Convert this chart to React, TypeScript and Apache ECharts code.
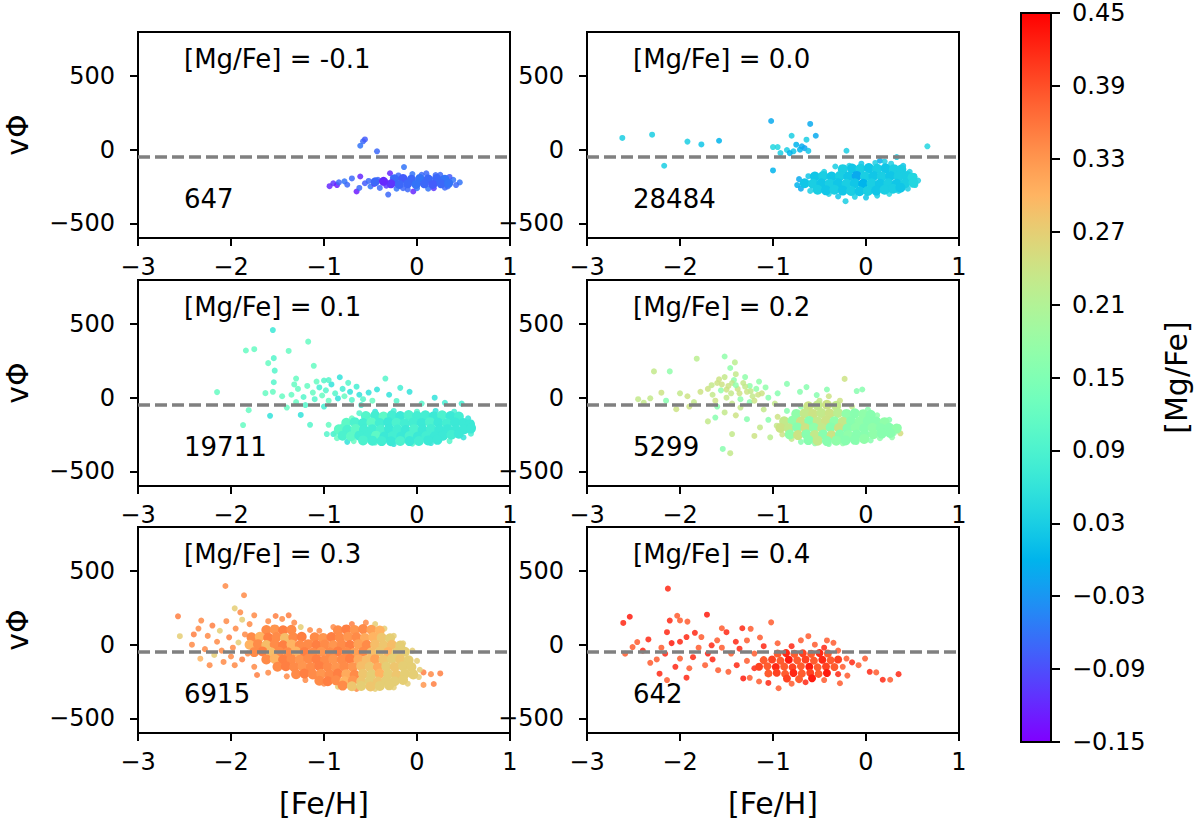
import React, { useEffect, useRef } from "react";
import * as echarts from "echarts";

// ---------- data ----------
const FEH_TICKS = [-3, -2, -1, 0, 1];
const VPHI_TICKS = [-500, 0, 500];
const CBAR_TICKS = [-0.15, -0.09, -0.03, 0.03, 0.09, 0.15, 0.21, 0.27, 0.33, 0.39, 0.45];
const CBAR_MIN = -0.15;
const CBAR_MAX = 0.45;
const MGFE_BINS = ["-0.1", "0.0", "0.1", "0.2", "0.3", "0.4"];
const COUNTS = ["647", "28484", "19711", "5299", "6915", "642"];
const REF_VPHI = -48;
const ANNOT_X = -2.5;
const TITLE_Y = 550;
const COUNT_Y = -400;

// [Fe/H], vPhi, [Mg/Fe]
const P1_SPARSE = [
  [-0.58, 57, -0.07], [-0.61, 27, -0.06], [-0.56, 70, -0.08], [-0.43, -11, -0.07], [-0.14, -118, -0.06],
  [-0.94, -248, -0.12], [-0.9, -228, -0.11], [-0.86, -240, -0.13], [-0.84, -222, -0.07], [-0.78, -215, -0.06],
  [-0.75, -238, -0.07], [-0.7, -195, -0.07], [-0.65, -284, -0.13], [-0.61, -182, -0.12], [-0.62, -260, -0.07],
  [-0.56, -228, -0.08], [-0.52, -212, -0.07], [-0.5, -250, -0.06], [-0.46, -232, -0.12], [-0.42, -205, -0.07],
  [-0.4, -260, -0.07], [-0.36, -222, -0.06], [-0.31, -305, -0.07], [-0.29, -160, -0.12], [-0.33, -245, -0.11],
  [-0.26, -190, -0.07], [-0.22, -265, -0.06], [-0.04, -284, -0.12], [-0.1, -270, -0.07], [0.05, -170, -0.07],
  [0.12, -265, -0.06], [0.2, -172, -0.07], [0.28, -195, -0.06], [0.33, -250, -0.07], [0.39, -205, -0.06],
  [0.46, -222, -0.06], [0.42, -240, -0.07], [0.35, -185, -0.08], [-0.2, -175, -0.07], [-0.05, -165, -0.06],
  [0.1, -160, -0.07], [0.25, -170, -0.07], [-0.15, -262, -0.07], [0.0, -262, -0.06], [0.18, -262, -0.11],
  [0.3, -258, -0.07],
];
const P1_CORE = [
  [-0.24, -198, -0.07], [-0.15, -195, -0.08], [-0.06, -200, -0.07], [0.03, -195, -0.06], [0.12, -198, -0.07],
  [0.21, -195, -0.07], [0.3, -200, -0.06], [-0.28, -232, -0.11], [-0.19, -236, -0.07], [-0.1, -232, -0.07],
  [-0.01, -236, -0.06], [0.08, -232, -0.07], [0.17, -236, -0.08], [0.26, -232, -0.07], [0.34, -228, -0.06],
  [-0.45, -218, -0.07], [-0.36, -215, -0.12],
];

const P2_SPARSE = [
  [-2.62, 80, 0.03], [-2.3, 102, 0.03], [-2.17, -109, 0.03], [-1.92, 55, 0.03], [-1.77, 36, 0.02],
  [-1.58, 61, 0.0], [-1.02, 195, -0.01], [-1.0, 18, 0.04], [-0.95, 18, 0.04], [-1.0, -141, 0.0],
  [-0.8, 95, 0.03], [-0.6, 175, -0.01], [-0.54, 95, -0.01], [-0.64, 68, 0.03], [-0.66, 11, -0.02],
  [-0.75, 34, 0.0], [-0.71, 0, 0.0], [-0.78, -11, 0.02], [-0.85, -2, 0.03], [-0.92, -23, 0.03],
  [-0.82, -23, 0.0], [-0.69, 23, -0.01], [-0.62, -8, 0.02], [-0.21, -7, 0.03], [0.66, 23, 0.04],
  [0.33, -50, 0.03], [0.15, -75, -0.01], [-0.33, -114, 0.03],
  [-0.72, -200, -0.01], [-0.74, -240, 0.0], [-0.7, -265, -0.01], [-0.62, -180, 0.02], [-0.6, -280, 0.03],
  [-0.45, -150, 0.03], [-0.4, -300, 0.03], [-0.3, -318, 0.02], [-0.22, -350, 0.03], [-0.12, -320, 0.03],
  [0.0, -325, 0.02], [0.12, -312, 0.03], [0.25, -300, 0.04], [0.35, -280, 0.03], [0.45, -265, 0.03],
  [0.53, -240, 0.04], [0.56, -210, 0.03], [0.52, -180, 0.03], [0.47, -150, 0.03], [0.4, -110, 0.02],
  [0.27, -95, 0.03], [0.1, -90, 0.03], [-0.05, -95, 0.02], [-0.18, -110, 0.03], [0.2, -80, 0.03],
  [-0.55, -230, -0.02], [0.05, -200, -0.02], [0.1, -240, -0.03],
];
const P2_CORE = [
  [-0.25, -132, 0.03], [-0.15, -128, 0.02], [-0.06, -130, 0.03], [0.03, -125, 0.02], [0.12, -130, 0.03],
  [0.21, -126, 0.02], [0.3, -132, 0.03], [0.38, -135, 0.03],
  [-0.55, -182, 0.02], [-0.46, -178, 0.03], [-0.37, -182, 0.02], [-0.28, -178, 0.03], [-0.19, -182, 0.02],
  [-0.1, -178, -0.01], [-0.01, -182, 0.03], [0.08, -178, 0.02], [0.17, -182, 0.03], [0.26, -178, 0.02],
  [0.35, -182, 0.03], [0.44, -178, 0.03], [0.5, -190, 0.04],
  [-0.66, -228, 0.02], [-0.57, -232, 0.03], [-0.48, -228, 0.02], [-0.39, -232, 0.03], [-0.3, -228, 0.02],
  [-0.21, -232, 0.03], [-0.12, -228, 0.02], [-0.03, -232, 0.0], [0.06, -228, 0.03], [0.15, -232, 0.02],
  [0.24, -228, 0.03], [0.33, -232, 0.02], [0.42, -228, 0.03], [0.51, -225, 0.04],
  [-0.52, -272, 0.03], [-0.43, -276, 0.02], [-0.34, -272, 0.03], [-0.25, -278, 0.02], [-0.16, -280, 0.03],
  [-0.07, -282, 0.02], [0.02, -280, 0.03], [0.11, -278, 0.02], [0.2, -272, 0.03], [0.29, -265, 0.03],
  [0.37, -258, 0.02],
];

const P3_SPARSE = [
  [-1.55, 460, 0.07], [-1.17, 381, 0.12], [-1.84, 321, 0.12], [-1.75, 330, 0.12], [-1.38, 318, 0.12],
  [-1.6, 235, 0.12], [-1.54, 269, 0.1], [-1.53, 184, 0.1], [-1.11, 217, 0.12], [-2.15, 38, 0.12],
  [-1.63, 31, 0.12], [-1.54, 105, 0.1], [-1.55, 40, 0.12], [-1.81, -85, 0.12], [-1.87, -186, 0.12],
  [-1.58, -123, 0.06], [-1.4, -67, 0.12], [-1.32, 90, 0.12], [-1.3, 130, 0.12], [-0.83, 139, 0.06],
  [-1.0, 117, 0.1], [-0.74, 101, 0.1], [-0.34, 130, 0.1], [-0.18, 67, 0.08], [-0.08, 40, 0.06],
  [-0.43, 56, 0.06], [0.19, 0, 0.06], [-1.25, -117, 0.06], [-1.15, -184, 0.1], [-0.95, -184, 0.12],
  [-0.97, -247, 0.1], [-0.9, -247, 0.08], [-0.22, -22, 0.1],
  [-1.35, 20, 0.12], [-1.28, 60, 0.12], [-1.22, 5, 0.1], [-1.18, 80, 0.12], [-1.12, 35, 0.12],
  [-1.1, -10, 0.1], [-1.05, 70, 0.08], [-1.02, 15, 0.12], [-0.98, 50, 0.1], [-0.95, -20, 0.12],
  [-0.92, 90, 0.06], [-0.88, 30, 0.1], [-0.85, -5, 0.06], [-0.8, 60, 0.08], [-0.78, 10, 0.12],
  [-0.72, 40, 0.06], [-0.7, -15, 0.1], [-0.65, 75, 0.08], [-0.62, 20, 0.06], [-0.58, -10, 0.1],
  [-0.52, 35, 0.06], [-0.48, -20, 0.12], [-1.3, -30, 0.12], [-1.2, -50, 0.1], [-1.08, 110, 0.12],
  [-0.95, 120, 0.1], [-1.45, 10, 0.12], [-1.0, -60, 0.08], [-0.3, 20, 0.06], [-0.6, -50, 0.08],
  [0.05, -40, 0.1], [0.3, -35, 0.08], [0.48, -40, 0.08],
  [-0.88, -240, 0.1], [-0.86, -275, 0.12], [-0.8, -195, 0.1], [-0.7, -140, 0.12], [-0.62, -105, 0.1],
  [-0.45, -95, 0.06], [-0.25, -90, 0.08], [0.0, -95, 0.1], [0.2, -90, 0.06], [0.4, -95, 0.08],
  [0.55, -140, 0.06], [0.6, -200, 0.06], [0.58, -245, 0.08], [0.5, -270, 0.06], [0.35, -295, 0.1],
  [0.15, -308, 0.06], [-0.05, -312, 0.1], [-0.25, -315, 0.06], [-0.45, -305, 0.1], [-0.68, -295, 0.12],
  [-0.75, -300, 0.06],
];
const P3_CORE = [
  [-0.55, -125, 0.1], [-0.45, -122, 0.08], [-0.36, -128, 0.11], [-0.27, -120, 0.08], [-0.18, -125, 0.07],
  [-0.09, -118, 0.09], [0.0, -124, 0.08], [0.09, -120, 0.08], [0.18, -126, 0.07], [0.27, -120, 0.09],
  [0.36, -125, 0.07], [0.45, -128, 0.08],
  [-0.76, -170, 0.11], [-0.67, -166, 0.09], [-0.58, -172, 0.08], [-0.49, -168, 0.11], [-0.4, -172, 0.08],
  [-0.31, -166, 0.07], [-0.22, -170, 0.09], [-0.13, -174, 0.08], [-0.04, -168, 0.08], [0.05, -172, 0.07],
  [0.14, -166, 0.09], [0.23, -170, 0.07], [0.32, -174, 0.08], [0.41, -168, 0.07], [0.5, -172, 0.07],
  [0.57, -180, 0.07],
  [-0.84, -215, 0.11], [-0.75, -218, 0.09], [-0.66, -212, 0.11], [-0.57, -218, 0.08], [-0.48, -214, 0.08],
  [-0.39, -218, 0.09], [-0.3, -212, 0.07], [-0.21, -216, 0.08], [-0.12, -220, 0.07], [-0.03, -214, 0.09],
  [0.06, -218, 0.07], [0.15, -212, 0.08], [0.24, -218, 0.07], [0.33, -214, 0.07], [0.42, -218, 0.07],
  [0.51, -214, 0.07], [0.58, -210, 0.07],
  [-0.8, -258, 0.09], [-0.71, -262, 0.11], [-0.62, -258, 0.08], [-0.53, -262, 0.08], [-0.44, -258, 0.11],
  [-0.35, -264, 0.07], [-0.26, -260, 0.08], [-0.17, -264, 0.07], [-0.08, -260, 0.09], [0.01, -264, 0.07],
  [0.1, -260, 0.08], [0.19, -262, 0.07], [0.28, -258, 0.07], [0.37, -252, 0.08], [0.45, -245, 0.07],
  [-0.58, -290, 0.09], [-0.48, -292, 0.08], [-0.38, -295, 0.08], [-0.28, -296, 0.07], [-0.18, -294, 0.09],
  [-0.08, -295, 0.07], [0.02, -294, 0.08], [0.12, -290, 0.07], [0.22, -286, 0.07],
];

const P4_SPARSE = [
  [-1.82, 265, 0.22], [-1.52, 280, 0.17], [-1.41, 240, 0.22], [-1.46, 202, 0.17], [-2.28, 179, 0.23],
  [-2.11, 179, 0.17], [-0.23, 128, 0.24], [-0.04, 56, 0.16], [-0.1, 45, 0.16], [-0.85, 94, 0.16],
  [-0.64, 72, 0.16], [-0.42, 56, 0.16], [-0.53, 18, 0.16], [-0.71, 40, 0.16], [-2.39, -34, 0.23],
  [-2.32, -4, 0.23], [-2.04, -78, 0.24], [-2.2, 34, 0.24], [-2.0, 30, 0.23], [-1.92, 10, 0.24],
  [-1.7, -161, 0.23], [-1.62, -135, 0.16], [-1.54, -348, 0.16], [-1.46, -377, 0.23], [-1.44, -247, 0.23],
  [-1.35, -67, 0.23], [-1.28, -146, 0.16], [-1.14, -202, 0.23], [-1.03, -269, 0.22], [-1.2, -260, 0.24],
  [0.37, -242, 0.25], [0.28, -269, 0.17], [-2.45, -10, 0.23], [-2.15, -20, 0.16], [-1.85, -30, 0.23],
  [-1.78, 40, 0.24], [-1.9, -60, 0.24], [-1.6, -60, 0.16], [-1.52, -100, 0.23], [-1.4, -120, 0.24],
  [-1.25, -30, 0.16], [-1.1, -80, 0.23], [-1.05, -150, 0.16], [-0.98, -40, 0.23], [-0.95, 30, 0.16],
  [-1.7, 60, 0.24], [-1.65, 20, 0.23], [-1.6, 100, 0.24], [-1.56, 50, 0.17], [-1.52, 140, 0.23],
  [-1.48, 80, 0.24], [-1.45, 30, 0.23], [-1.42, 120, 0.17], [-1.38, 60, 0.24], [-1.35, -10, 0.17],
  [-1.32, 100, 0.23], [-1.28, 40, 0.24], [-1.25, 80, 0.17], [-1.22, 10, 0.23], [-1.18, 60, 0.17],
  [-1.15, 110, 0.17], [-1.12, 30, 0.24], [-1.08, 70, 0.17], [-1.05, 0, 0.16], [-1.5, 0, 0.23],
  [-1.62, -20, 0.24], [-1.4, 160, 0.23], [-1.3, 140, 0.17], [-1.2, -20, 0.24], [-1.55, 90, 0.24],
  [-1.44, -40, 0.23], [-1.66, 85, 0.23], [-1.58, 125, 0.24], [-1.5, 55, 0.24], [-1.44, 100, 0.23],
  [-1.36, 30, 0.24], [-1.3, 75, 0.23], [-1.24, 45, 0.23], [-1.16, 20, 0.24], [-1.4, 85, 0.17],
  [-0.95, -130, 0.24], [-0.96, -190, 0.23], [-0.9, -250, 0.24], [-0.8, -280, 0.23], [-0.7, -300, 0.16],
  [-0.55, -310, 0.17], [-0.4, -315, 0.16], [-0.25, -310, 0.17], [-0.1, -300, 0.16], [0.05, -290, 0.16],
  [0.15, -275, 0.17], [0.3, -240, 0.16], [0.35, -200, 0.16], [0.25, -150, 0.16], [0.12, -120, 0.17],
  [0.02, -80, 0.16], [-0.15, -60, 0.23], [-0.28, -20, 0.24], [-0.4, 10, 0.24], [-0.5, -20, 0.23],
  [-0.7, -60, 0.17], [-0.85, -90, 0.16],
];
const P4_CORE = [
  [-0.62, -58, 0.24], [-0.52, -52, 0.23], [-0.42, -48, 0.24], [-0.32, -55, 0.23],
  [-0.75, -110, 0.17], [-0.66, -106, 0.23], [-0.57, -110, 0.24], [-0.48, -104, 0.23], [-0.39, -108, 0.24],
  [-0.3, -104, 0.22], [-0.21, -110, 0.17], [-0.12, -106, 0.16], [-0.03, -112, 0.17], [0.05, -116, 0.16],
  [-0.88, -160, 0.23], [-0.79, -156, 0.17], [-0.7, -162, 0.24], [-0.61, -158, 0.16], [-0.52, -162, 0.23],
  [-0.43, -156, 0.24], [-0.34, -160, 0.17], [-0.25, -164, 0.23], [-0.16, -158, 0.16], [-0.07, -162, 0.17],
  [0.02, -158, 0.16], [0.11, -162, 0.16], [0.2, -166, 0.17],
  [-0.92, -205, 0.24], [-0.83, -208, 0.23], [-0.74, -202, 0.16], [-0.65, -208, 0.24], [-0.56, -204, 0.17],
  [-0.47, -208, 0.23], [-0.38, -202, 0.16], [-0.29, -206, 0.24], [-0.2, -210, 0.16], [-0.11, -204, 0.17],
  [-0.02, -208, 0.16], [0.07, -204, 0.17], [0.16, -208, 0.16], [0.25, -204, 0.16], [0.33, -210, 0.17],
  [-0.82, -250, 0.17], [-0.73, -254, 0.24], [-0.64, -248, 0.16], [-0.55, -254, 0.23], [-0.46, -250, 0.16],
  [-0.37, -256, 0.24], [-0.28, -250, 0.16], [-0.19, -254, 0.17], [-0.1, -250, 0.16], [-0.01, -252, 0.16],
  [0.08, -248, 0.17], [0.17, -244, 0.16], [0.26, -240, 0.16],
  [-0.62, -288, 0.16], [-0.52, -292, 0.23], [-0.42, -295, 0.16], [-0.32, -292, 0.17], [-0.22, -290, 0.16],
  [-0.12, -286, 0.16], [-0.02, -280, 0.17],
];

const P5_SPARSE = [
  [-2.06, 399, 0.34], [-1.86, 336, 0.34], [-1.96, 247, 0.27], [-1.9, 220, 0.34], [-2.57, 193, 0.35],
  [-2.55, 58, 0.27], [-2.42, 0, 0.34], [-2.32, 164, 0.34], [-2.35, 110, 0.34], [-2.23, -139, 0.34],
  [-2.33, -95, 0.3], [-2.08, -117, 0.34], [-1.96, -139, 0.34], [-1.72, -206, 0.35], [0.07, -188, 0.35],
  [0.18, -267, 0.35], [0.25, -195, 0.35], [0.07, -273, 0.33], [0.15, -200, 0.34],
  [-2.25, 60, 0.34], [-2.2, 130, 0.35], [-2.15, 20, 0.34], [-2.12, 95, 0.27], [-2.1, -40, 0.34],
  [-2.05, 160, 0.34], [-2.02, 50, 0.35], [-1.98, -20, 0.34], [-1.95, 110, 0.34], [-1.92, 15, 0.27],
  [-1.88, 170, 0.27], [-1.85, 70, 0.34], [-1.82, -60, 0.34], [-2.28, -30, 0.34], [-2.18, -70, 0.27],
  [-2.4, 70, 0.35], [-2.0, -80, 0.34], [-1.88, -100, 0.35], [-1.8, 140, 0.34], [-1.75, 200, 0.34],
  [-1.6, 160, 0.34], [-1.52, 195, 0.35], [-1.45, 175, 0.34], [-1.38, 200, 0.35], [-1.32, 150, 0.34],
  [-1.25, 120, 0.27],
  [-0.9, 120, 0.34], [-0.7, 140, 0.35], [-0.55, 150, 0.34], [-0.45, 140, 0.27], [-0.35, 110, 0.27],
  [-0.25, 60, 0.27], [-0.15, 10, 0.27], [-0.05, -40, 0.27], [0.0, -110, 0.27], [0.03, -170, 0.27],
  [0.02, -220, 0.27], [-1.15, 100, 0.34], [-1.05, 95, 0.34],
  [-1.6, -190, 0.34], [-1.4, -215, 0.34], [-1.2, -240, 0.34], [-1.0, -265, 0.34], [-0.85, -285, 0.27],
  [-0.65, -300, 0.34], [-0.45, -300, 0.27], [-0.25, -290, 0.27], [-0.1, -265, 0.27], [-1.75, -150, 0.34],
];
const P5_CORE = [
  [-1.62, 100, 0.34], [-1.53, 104, 0.33], [-1.44, 98, 0.35], [-1.35, 102, 0.34], [-0.85, 98, 0.34],
  [-0.76, 104, 0.35], [-0.67, 100, 0.33], [-0.58, 106, 0.34], [-0.49, 102, 0.32], [-0.4, 96, 0.3],
  [-1.78, 50, 0.34], [-1.69, 54, 0.3], [-1.6, 48, 0.35], [-1.51, 52, 0.34], [-1.42, 46, 0.29],
  [-1.33, 50, 0.34], [-1.24, 54, 0.35], [-1.1, 50, 0.34], [-1.01, 46, 0.33], [-0.92, 52, 0.35],
  [-0.83, 48, 0.34], [-0.74, 54, 0.33], [-0.65, 50, 0.34], [-0.56, 46, 0.31], [-0.47, 52, 0.3],
  [-0.38, 48, 0.28], [-0.29, 44, 0.27],
  [-1.8, 0, 0.3], [-1.71, 4, 0.34], [-1.62, -2, 0.29], [-1.53, 2, 0.34], [-1.44, -4, 0.35],
  [-1.35, 2, 0.3], [-1.26, -2, 0.34], [-1.17, 4, 0.34], [-1.08, -2, 0.35], [-0.99, 2, 0.34],
  [-0.9, -4, 0.33], [-0.81, 2, 0.34], [-0.72, -2, 0.35], [-0.63, 4, 0.32], [-0.54, -2, 0.34],
  [-0.45, 2, 0.29], [-0.36, -4, 0.28], [-0.27, 0, 0.29], [-0.18, -6, 0.27],
  [-1.75, -50, 0.34], [-1.66, -46, 0.35], [-1.57, -52, 0.29], [-1.48, -48, 0.34], [-1.39, -52, 0.34],
  [-1.3, -46, 0.3], [-1.21, -50, 0.35], [-1.12, -54, 0.34], [-1.03, -48, 0.33], [-0.94, -52, 0.34],
  [-0.85, -46, 0.35], [-0.76, -50, 0.34], [-0.67, -54, 0.32], [-0.58, -48, 0.34], [-0.49, -52, 0.29],
  [-0.4, -46, 0.28], [-0.31, -50, 0.3], [-0.22, -54, 0.27], [-0.13, -48, 0.27],
  [-1.62, -100, 0.34], [-1.53, -96, 0.3], [-1.44, -102, 0.35], [-1.35, -98, 0.34], [-1.26, -102, 0.33],
  [-1.17, -96, 0.34], [-1.08, -100, 0.35], [-0.99, -104, 0.34], [-0.9, -98, 0.33], [-0.81, -102, 0.34],
  [-0.72, -96, 0.35], [-0.63, -100, 0.31], [-0.54, -104, 0.29], [-0.45, -98, 0.32], [-0.36, -102, 0.28],
  [-0.27, -96, 0.27], [-0.18, -100, 0.28], [-0.09, -106, 0.27],
  [-1.5, -150, 0.34], [-1.41, -146, 0.35], [-1.32, -152, 0.34], [-1.23, -148, 0.33], [-1.14, -152, 0.34],
  [-1.05, -146, 0.35], [-0.96, -150, 0.34], [-0.87, -154, 0.33], [-0.78, -148, 0.34], [-0.69, -152, 0.33],
  [-0.6, -146, 0.29], [-0.51, -150, 0.28], [-0.42, -154, 0.31], [-0.33, -148, 0.27], [-0.24, -152, 0.28],
  [-0.15, -146, 0.27], [-0.06, -152, 0.27],
  [-1.3, -200, 0.34], [-1.21, -196, 0.35], [-1.12, -202, 0.34], [-1.03, -198, 0.33], [-0.94, -202, 0.34],
  [-0.85, -196, 0.35], [-0.76, -200, 0.31], [-0.67, -204, 0.34], [-0.58, -198, 0.28], [-0.49, -202, 0.27],
  [-0.4, -196, 0.3], [-0.31, -200, 0.27], [-0.22, -204, 0.28], [-0.13, -198, 0.27], [-0.04, -202, 0.27],
  [-1.05, -245, 0.34], [-0.96, -248, 0.35], [-0.87, -242, 0.34], [-0.78, -248, 0.3], [-0.69, -244, 0.33],
  [-0.6, -250, 0.28], [-0.51, -246, 0.27], [-0.42, -250, 0.28], [-0.33, -244, 0.27], [-0.24, -248, 0.27],
  [-0.15, -240, 0.27],
  [-0.8, -278, 0.34], [-0.7, -282, 0.28], [-0.6, -280, 0.27], [-0.5, -284, 0.28], [-0.4, -280, 0.27],
  [-0.3, -276, 0.27],
];

const P6_SPARSE = [
  [-2.13, 381, 0.42], [-1.71, 204, 0.43], [-2.61, 148, 0.42], [-2.54, 190, 0.43], [-2.03, 197, 0.38],
  [-2.11, 164, 0.42], [-2.0, 165, 0.38], [-1.92, 157, 0.38], [-1.02, 152, 0.38], [-1.84, 81, 0.42],
  [-1.55, 112, 0.38], [-1.5, 85, 0.42], [-1.33, 112, 0.42], [-1.24, 108, 0.38], [-2.34, 36, 0.42],
  [-2.46, 18, 0.38], [-2.51, -16, 0.38], [-2.59, -61, 0.38], [-2.14, 85, 0.42], [-2.09, 11, 0.43],
  [-2.0, 20, 0.42], [-1.93, 52, 0.42], [-1.77, 52, 0.38], [-1.66, -4, 0.42], [-2.16, -61, 0.42],
  [-2.32, -123, 0.38], [-2.22, -197, 0.42], [-2.14, -240, 0.38], [-1.93, -224, 0.42], [-2.0, -94, 0.38],
  [-1.86, -85, 0.42], [-1.73, -139, 0.38], [-1.65, -100, 0.42], [-1.59, -173, 0.38], [-1.48, -184, 0.38],
  [-1.36, -27, 0.42], [-1.28, 29, 0.38], [-1.14, 49, 0.38], [-1.39, -139, 0.42], [-1.32, -229, 0.43],
  [-1.25, -225, 0.38], [-0.94, -296, 0.38], [-0.62, 58, 0.38], [-0.42, 29, 0.38], [-0.35, 13, 0.38],
  [-0.21, -94, 0.38], [-0.08, -139, 0.38], [-0.01, -94, 0.38], [0.04, -184, 0.42], [0.11, -188, 0.38],
  [0.18, -238, 0.42], [0.26, -238, 0.38], [0.35, -200, 0.42], [-0.28, -262, 0.38],
  [-2.4, -40, 0.42], [-2.25, -100, 0.38], [-2.05, -150, 0.42], [-1.8, -20, 0.38], [-1.7, -60, 0.43],
  [-1.6, 30, 0.38], [-1.45, -60, 0.38], [-1.4, 20, 0.42], [-1.2, -60, 0.38], [-1.2, -160, 0.42],
  [-1.15, -250, 0.38], [-1.05, -260, 0.42], [-1.28, -110, 0.38], [-0.95, 10, 0.38], [-0.8, -10, 0.42],
  [-0.7, 30, 0.38], [-0.55, 0, 0.38], [-0.45, -20, 0.42], [-0.3, -40, 0.38], [-0.25, -150, 0.38],
  [-0.3, -200, 0.42], [-0.2, -210, 0.38], [-0.45, -240, 0.38], [-0.65, -255, 0.42], [-0.8, -265, 0.38],
  [-0.15, -120, 0.42], [-1.9, -160, 0.38], [-2.2, -20, 0.38], [-1.55, -20, 0.38], [-1.1, -10, 0.42],
];
const P6_CORE = [
  [-0.95, -60, 0.38], [-0.86, -56, 0.42], [-0.77, -62, 0.38], [-0.68, -58, 0.4], [-0.59, -62, 0.38],
  [-0.5, -56, 0.42], [-0.41, -60, 0.38],
  [-1.1, -105, 0.38], [-1.01, -100, 0.4], [-0.92, -108, 0.38], [-0.83, -102, 0.43], [-0.74, -106, 0.38],
  [-0.65, -100, 0.4], [-0.56, -108, 0.38], [-0.47, -102, 0.42], [-0.38, -106, 0.38], [-0.3, -100, 0.4],
  [-1.15, -150, 0.4], [-1.06, -146, 0.38], [-0.97, -152, 0.42], [-0.88, -148, 0.38], [-0.79, -154, 0.4],
  [-0.7, -146, 0.38], [-0.61, -150, 0.43], [-0.52, -154, 0.38], [-0.43, -148, 0.4], [-0.34, -152, 0.38],
  [-1.05, -195, 0.38], [-0.96, -190, 0.4], [-0.87, -198, 0.38], [-0.78, -192, 0.42], [-0.69, -196, 0.38],
  [-0.6, -190, 0.4], [-0.51, -198, 0.38], [-0.42, -192, 0.43],
  [-0.85, -230, 0.4], [-0.72, -234, 0.38], [-0.58, -228, 0.43],
];

const PANEL_SPARSE = [P1_SPARSE, P2_SPARSE, P3_SPARSE, P4_SPARSE, P5_SPARSE, P6_SPARSE];
const PANEL_CORE = [P1_CORE, P2_CORE, P3_CORE, P4_CORE, P5_CORE, P6_CORE];

// ---------- layout / style ----------
const FONT = "DejaVu Sans";
const COL_LEFT = [138, 587];
const ROW_TOP = [32, 280, 527];
const PANEL_W = 372;
const PANEL_H = 206;
const CORE_SIZE = [9, 10, 10, 10, 10, 8];
const CB = { left: 1021, top: 13, width: 30, height: 729 };

const minus = (s: string) => s.replace(/-/g, "\u2212");

// matplotlib "rainbow" colormap
function rainbow(t: number): string {
  const r = Math.min(1, Math.abs(2 * t - 0.5));
  const g = Math.max(0, Math.sin(Math.PI * t));
  const b = Math.max(0, Math.cos((Math.PI * t) / 2));
  return `rgb(${Math.round(r * 255)},${Math.round(g * 255)},${Math.round(b * 255)})`;
}
const N_STOPS = 33;
const CMAP = Array.from({ length: N_STOPS }, (_, k) => rainbow(k / (N_STOPS - 1)));

export default function App() {
  const ref = useRef<HTMLDivElement>(null);

  useEffect(() => {
    if (!ref.current) return;
    const chart = echarts.init(ref.current, null, { renderer: "svg" });

    const tickStyle = { color: "#000", width: 2 };
    const labelStyle = { fontSize: 24, color: "#000", fontFamily: FONT };

    const grids: any[] = [];
    const xAxes: any[] = [];
    const yAxes: any[] = [];
    for (let i = 0; i < 6; i++) {
      grids.push({
        left: COL_LEFT[i % 2],
        top: ROW_TOP[Math.floor(i / 2)],
        width: PANEL_W,
        height: PANEL_H,
        show: true,
        borderColor: "#000",
        borderWidth: 2,
        backgroundColor: "transparent",
      });
      xAxes.push({
        type: "value",
        gridIndex: i,
        position: "bottom",
        min: -3,
        max: 1,
        interval: 1,
        axisLine: { show: false, onZero: false },
        axisTick: { show: true, length: 8, customValues: FEH_TICKS, lineStyle: tickStyle },
        axisLabel: {
          ...labelStyle,
          margin: 17,
          customValues: FEH_TICKS,
          formatter: (v: number) => minus(String(v)),
        },
        splitLine: { show: false },
      });
      yAxes.push({
        type: "value",
        gridIndex: i,
        position: "left",
        min: -600,
        max: 800,
        axisLine: { show: false, onZero: false },
        axisTick: { show: true, length: 8, customValues: VPHI_TICKS, lineStyle: tickStyle },
        axisLabel: {
          ...labelStyle,
          margin: 23,
          customValues: VPHI_TICKS,
          formatter: (v: number) => minus(String(v)),
        },
        splitLine: { show: false },
      });
    }
    // colorbar grid
    grids.push({ ...CB, show: false });
    xAxes.push({ type: "value", gridIndex: 6, min: 0, max: 1, show: false });
    yAxes.push({
      type: "value",
      gridIndex: 6,
      position: "right",
      min: CBAR_MIN,
      max: CBAR_MAX,
      axisLine: { show: true, onZero: false, lineStyle: tickStyle },
      axisTick: { show: true, length: 9, customValues: CBAR_TICKS, lineStyle: tickStyle },
      axisLabel: {
        ...labelStyle,
        margin: 21,
        customValues: CBAR_TICKS,
        formatter: (v: number) => minus(v.toFixed(2)),
      },
      splitLine: { show: false },
    });

    const series: any[] = [];
    const mappedIdx: number[] = [];
    for (let i = 0; i < 6; i++) {
      mappedIdx.push(series.length);
      series.push({
        type: "scatter",
        xAxisIndex: i,
        yAxisIndex: i,
        data: PANEL_SPARSE[i],
        symbolSize: 6,
        itemStyle: { opacity: 0.85 },
        silent: true,
        z: 2,
      });
      mappedIdx.push(series.length);
      series.push({
        type: "scatter",
        xAxisIndex: i,
        yAxisIndex: i,
        data: PANEL_CORE[i],
        symbolSize: CORE_SIZE[i],
        itemStyle: { opacity: 1 },
        silent: true,
        z: 2,
      });
    }
    for (let i = 0; i < 6; i++) {
      series.push({
        type: "scatter",
        xAxisIndex: i,
        yAxisIndex: i,
        silent: true,
        z: 4,
        symbolSize: 1,
        itemStyle: { color: "rgba(0,0,0,0)" },
        data: [
          { value: [ANNOT_X, TITLE_Y], name: `[Mg/Fe] = ${MGFE_BINS[i]}` },
          { value: [ANNOT_X, COUNT_Y], name: COUNTS[i] },
        ],
        label: {
          show: true,
          position: [0, 0],
          align: "left",
          verticalAlign: "middle",
          offset: [0, -9],
          formatter: "{b}",
          fontSize: 26,
          color: "#000",
          opacity: 1,
          textBorderWidth: 0,
          textBorderColor: "transparent",
          fontFamily: FONT,
        },
        markLine: {
          silent: true,
          symbol: ["none", "none"],
          label: { show: false },
          lineStyle: { color: "#808080", width: 3.5, type: [12, 5], opacity: 1 },
          data: [{ yAxis: REF_VPHI }],
        },
      });
    }
    // colorbar
    series.push({
      type: "custom",
      xAxisIndex: 6,
      yAxisIndex: 6,
      silent: true,
      data: [[0, CBAR_MIN]],
      renderItem: (_p: any, api: any) => {
        const p0 = api.coord([0, CBAR_MIN]);
        const p1 = api.coord([1, CBAR_MAX]);
        return {
          type: "rect",
          shape: { x: p0[0], y: p1[1], width: p1[0] - p0[0], height: p0[1] - p1[1] },
          style: {
            fill: {
              type: "linear",
              x: 0,
              y: 1,
              x2: 0,
              y2: 0,
              colorStops: CMAP.map((c, k) => ({ offset: k / (CMAP.length - 1), color: c })),
            },
            stroke: "#000",
            lineWidth: 2,
          },
        };
      },
    });

    const titleStyle = { fontSize: 30, fontFamily: FONT, fill: "#000", align: "center", verticalAlign: "middle" };
    const graphic: any[] = [];
    for (let r = 0; r < 3; r++) {
      graphic.push({
        type: "text",
        x: 17,
        y: ROW_TOP[r] + PANEL_H / 2,
        rotation: Math.PI / 2,
        style: { ...titleStyle, text: "vΦ" },
      });
    }
    for (let c = 0; c < 2; c++) {
      graphic.push({
        type: "text",
        x: COL_LEFT[c] + PANEL_W / 2,
        y: 803,
        style: { ...titleStyle, text: "[Fe/H]" },
      });
    }
    graphic.push({
      type: "text",
      x: 1176,
      y: CB.top + CB.height / 2,
      rotation: Math.PI / 2,
      style: { ...titleStyle, text: "[Mg/Fe]" },
    });

    chart.setOption({
      animation: false,
      backgroundColor: "#fff",
      textStyle: { fontFamily: FONT },
      grid: grids,
      xAxis: xAxes,
      yAxis: yAxes,
      visualMap: {
        type: "continuous",
        show: false,
        dimension: 2,
        min: CBAR_MIN,
        max: CBAR_MAX,
        seriesIndex: mappedIdx,
        inRange: { color: CMAP },
      },
      series,
      graphic,
    });

    return () => chart.dispose();
  }, []);

  return (
    <div
      ref={ref}
      style={{ position: "fixed", left: 0, top: 0, width: 1200, height: 825, background: "#fff" }}
    />
  );
}
